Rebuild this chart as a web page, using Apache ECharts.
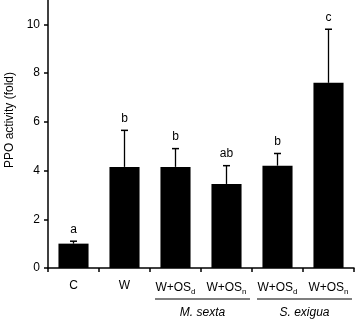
<!DOCTYPE html>
<html><head><meta charset="utf-8">
<script src="https://cdn.jsdelivr.net/npm/echarts@6/dist/echarts.min.js"></script>
<style>html,body{margin:0;padding:0;background:#fff}#c{width:356px;height:319px}</style>
</head><body><div id="c"></div>
<script>
var categories = ['C', 'W', 'W+OSd_M', 'W+OSn_M', 'W+OSd_S', 'W+OSn_S'];
var means = [1.0, 4.15, 4.15, 3.45, 4.2, 7.6];
var errTops = [1.1, 5.65, 4.9, 4.2, 4.7, 9.8];
var letters = ['a', 'b', 'b', 'ab', 'b', 'c'];
var groups = [[2, 3, 'M. sexta'], [4, 5, 'S. exigua']];
var yTicks = [0, 2, 4, 6, 8, 10];

var FONT = 'Liberation Sans, Arial, Helvetica, sans-serif';
var chart = echarts.init(document.getElementById('c'));
function labelFmt(v) {
  if (v === 'C' || v === 'W') return v;
  var sub = v.indexOf('OSd') >= 0 ? 'd' : 'n';
  return 'W+OS{s|' + sub + '}';
}
chart.setOption({
  animation: false,
  grid: {left: 48, right: 2, top: 0, bottom: 51, outerBoundsMode: 'none', containLabel: false},
  xAxis: {
    type: 'category', data: categories,
    axisLine: {lineStyle: {color: '#000', width: 1.5}},
    axisTick: {show: true, length: 4, interval: 0, lineStyle: {color: '#000', width: 1.5}},
    axisLabel: {
      interval: 0, hideOverlap: false,
      margin: 12, color: '#000', fontSize: 12, fontFamily: FONT,
      formatter: labelFmt,
      rich: {s: {fontSize: 8, verticalAlign: 'bottom', padding: [8, 0, 0, 0], color: '#000', fontFamily: FONT}}
    }
  },
  yAxis: {
    type: 'value', min: 0, max: 11, interval: 2,
    name: 'PPO activity (fold)', nameLocation: 'middle', nameGap: 30, nameRotate: 90,
    nameTextStyle: {color: '#000', fontSize: 12, fontFamily: FONT, padding: [0, 0, 0, 28]},
    axisLine: {show: true, lineStyle: {color: '#000', width: 1.5}},
    axisTick: {show: true, length: 4, customValues: yTicks, lineStyle: {color: '#000', width: 1.5}},
    axisLabel: {customValues: yTicks, color: '#000', fontSize: 12, fontFamily: FONT, margin: 8},
    splitLine: {show: false}
  },
  series: [
    {type: 'bar', data: means, barWidth: '59%', itemStyle: {color: '#000'}, z: 2},
    {
      type: 'custom', z: 3,
      data: categories.map(function (c, i) { return [i, means[i], errTops[i]]; }),
      renderItem: function (params, api) {
        var i = api.value(0);
        var base = api.coord([i, api.value(1)]);
        var top = api.coord([i, api.value(2)]);
        var hw = 3.5;
        return {type: 'group', children: [
          {type: 'line', shape: {x1: base[0], y1: base[1], x2: top[0], y2: top[1]}, style: {stroke: '#000', lineWidth: 1.3}},
          {type: 'line', shape: {x1: top[0] - hw, y1: top[1], x2: top[0] + hw, y2: top[1]}, style: {stroke: '#000', lineWidth: 1.5}},
          {type: 'text', x: top[0], y: top[1] - 6, style: {text: letters[params.dataIndex], fill: '#000', font: '12px ' + FONT, align: 'center', verticalAlign: 'bottom'}}
        ]};
      }
    },
    {
      type: 'custom', z: 3, clip: false, silent: true,
      data: groups.map(function (g) { return [g[0], g[1]]; }),
      renderItem: function (params, api) {
        var a = api.coord([api.value(0), 0]);
        var b = api.coord([api.value(1), 0]);
        var bw = api.size([1, 0])[0];
        var x1 = a[0] - bw / 2 + 5, x2 = b[0] + bw / 2 - 2;
        var y = a[1] + 31;
        return {type: 'group', children: [
          {type: 'line', shape: {x1: x1, y1: y, x2: x2, y2: y}, style: {stroke: '#000', lineWidth: 1.2}},
          {type: 'text', x: (x1 + x2) / 2, y: y + 14, style: {text: groups[params.dataIndex][2], fill: '#000', font: 'italic 12px ' + FONT, align: 'center', verticalAlign: 'middle'}}
        ]};
      }
    }
  ]
});
</script></body></html>
